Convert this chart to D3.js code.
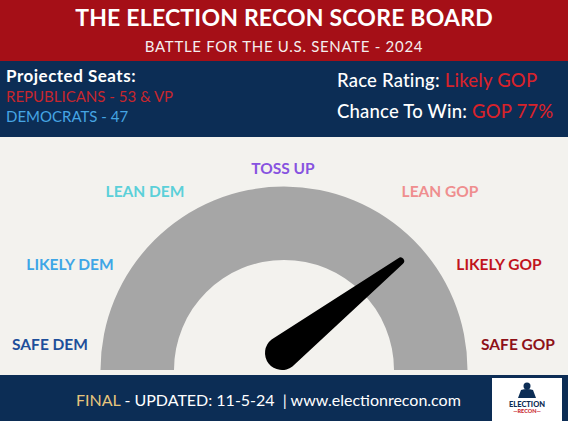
<!DOCTYPE html>
<html>
<head>
<meta charset="utf-8">
<script src="https://cdn.jsdelivr.net/npm/d3@7"></script>
<style>
  body { margin: 0; background: #f3f2ee; }
  svg { display: block; font-family: Lato, "Noto Sans", sans-serif; }
</style>
</head>
<body>
<div id="chart"></div>
<script>
// ratings around the dial, left (safe dem) to right (safe gop)
var RATINGS = ["SAFE DEM", "LIKELY DEM", "LEAN DEM", "TOSS UP", "LEAN GOP", "LIKELY GOP", "SAFE GOP"];
var RATING_COLORS = ["#1d4e9b", "#3ea6e6", "#5bd0d9", "#8753e0", "#ef8e8f", "#c1141d", "#8e1118"];

// projected seats
var PARTIES = ["REPUBLICANS", "DEMOCRATS"];
var SEATS = ["53 & VP", "47"];
var PARTY_COLORS = ["#c8262d", "#46a5e3"];

var RACE_RATING = "Likely GOP";
var CHANCE_PARTY = "GOP";
var CHANCE_TO_WIN = 77;
// where the needle sits on the dial, 0 = far left, 100 = far right
var NEEDLE = 79;

var STATUS = "FINAL";
var UPDATED = "11-5-24";
var SITE = "www.electionrecon.com";

var W = 568, H = 421;
var RED = "#a50f17", NAVY = "#0c2d55", BG = "#f3f2ee";

var svg = d3.select("#chart").append("svg")
    .attr("width", W)
    .attr("height", H);

svg.append("rect").attr("width", W).attr("height", H).attr("fill", BG);

// ---- header
svg.append("rect").attr("width", W).attr("height", 61).attr("fill", RED);
svg.append("rect").attr("y", 61).attr("width", W).attr("height", 76).attr("fill", NAVY);

svg.append("text")
    .attr("x", W / 2)
    .attr("y", 26)
    .attr("text-anchor", "middle")
    .attr("fill", "#fff")
    .style("font-size", "23px")
    .style("font-weight", 700)
    .style("letter-spacing", "0.2px")
    .text("THE ELECTION RECON SCORE BOARD");

svg.append("text")
    .attr("x", W / 2)
    .attr("y", 52)
    .attr("text-anchor", "middle")
    .attr("fill", "#f4eeee")
    .style("font-size", "15px")
    .style("letter-spacing", "0.7px")
    .text("BATTLE FOR THE U.S. SENATE - 2024");

// ---- projected seats
svg.append("text")
    .attr("x", 6)
    .attr("y", 82)
    .attr("fill", "#fff")
    .style("font-size", "17px")
    .style("font-weight", 700)
    .style("letter-spacing", "0.5px")
    .text("Projected Seats:");

svg.selectAll("text.seats")
    .data(PARTIES)
    .enter().append("text")
    .attr("class", "seats")
    .attr("x", 6)
    .attr("y", function (d, i) {
        return 102 + i * 20;
    })
    .attr("fill", function (d, i) {
        return PARTY_COLORS[i];
    })
    .style("font-size", "15px")
    .text(function (d, i) {
        return d + " - " + SEATS[i];
    });

// ---- rating / chance
var infoRows = [
    ["Race Rating: ", RACE_RATING],
    ["Chance To Win: ", CHANCE_PARTY + " " + CHANCE_TO_WIN + "%"]
];

var info = svg.selectAll("text.info")
    .data(infoRows)
    .enter().append("text")
    .attr("class", "info")
    .attr("x", 337)
    .attr("y", function (d, i) {
        return 87 + i * 31;
    })
    .style("font-size", "18.5px")
    .style("font-weight", 500)
    .style("letter-spacing", "0.2px");

info.append("tspan")
    .attr("fill", "#fff")
    .text(function (d) { return d[0]; });

info.append("tspan")
    .attr("fill", "#d8222b")
    .text(function (d) { return d[1]; });

// ---- gauge
var cx = 284, cy = 370;

var arc = d3.arc()
    .innerRadius(110)
    .outerRadius(183.5)
    .startAngle(-Math.PI / 2)
    .endAngle(Math.PI / 2);

svg.append("path")
    .attr("d", arc())
    .attr("transform", "translate(" + cx + "," + cy + ")")
    .attr("fill", "#a6a6a6");

// label anchors (centre x, baseline) for each rating
var labelPos = [[50, 350], [70, 270], [145, 197], [283, 174], [440, 197], [499, 270], [518, 350]];

svg.selectAll("text.rating")
    .data(RATINGS)
    .enter().append("text")
    .attr("class", "rating")
    .attr("x", function (d, i) { return labelPos[i][0]; })
    .attr("y", function (d, i) { return labelPos[i][1]; })
    .attr("text-anchor", "middle")
    .attr("fill", function (d, i) { return RATING_COLORS[i]; })
    .style("font-size", "15.5px")
    .style("font-weight", 700)
    .text(function (d) { return d; });

// needle: value -> rotation from straight up
var needleAngle = d3.scaleLinear().domain([0, 100]).range([-90, 90]);

var pivotX = cx - 2, pivotY = cy - 17,
    baseR = 17, tipR = 3.6, len = 150;

var needlePath = d3.path();
needlePath.moveTo(-baseR, 0);
needlePath.lineTo(-tipR, -len);
needlePath.arc(0, -len, tipR, Math.PI, 0);
needlePath.lineTo(baseR, 0);
needlePath.arc(0, 0, baseR, 0, Math.PI);
needlePath.closePath();

svg.append("path")
    .attr("d", needlePath.toString())
    .attr("transform", "translate(" + pivotX + "," + pivotY + ") rotate(" + needleAngle(NEEDLE) + ")")
    .attr("fill", "#000");

// ---- footer
svg.append("rect").attr("y", 375).attr("width", W).attr("height", H - 375).attr("fill", NAVY);

var foot = svg.append("text")
    .attr("x", 76)
    .attr("y", 406)
    .style("font-size", "16px")
    .attr("xml:space", "preserve");

foot.append("tspan").attr("fill", "#e6c47c").text(STATUS);
foot.append("tspan").attr("fill", "#fff").text(" - UPDATED: " + UPDATED + "  | " + SITE);

// logo box
var logo = svg.append("g").attr("transform", "translate(492,378)");
logo.append("rect").attr("width", 70).attr("height", 43).attr("fill", "#fff");
logo.append("circle").attr("cx", 35).attr("cy", 8).attr("r", 3.5).attr("fill", NAVY);
logo.append("path")
    .attr("d", "M26,20 L29,12 Q35,10 41,12 L44,20 Z")
    .attr("fill", NAVY);
logo.append("text")
    .attr("x", 35).attr("y", 29)
    .attr("text-anchor", "middle")
    .attr("fill", NAVY)
    .style("font-size", "7.5px")
    .style("font-weight", 900)
    .text("ELECTION");
logo.append("text")
    .attr("x", 35).attr("y", 35)
    .attr("text-anchor", "middle")
    .attr("fill", "#c8262d")
    .style("font-size", "5.5px")
    .style("font-weight", 900)
    .text("\u2014RECON\u2014");
</script>
</body>
</html>
